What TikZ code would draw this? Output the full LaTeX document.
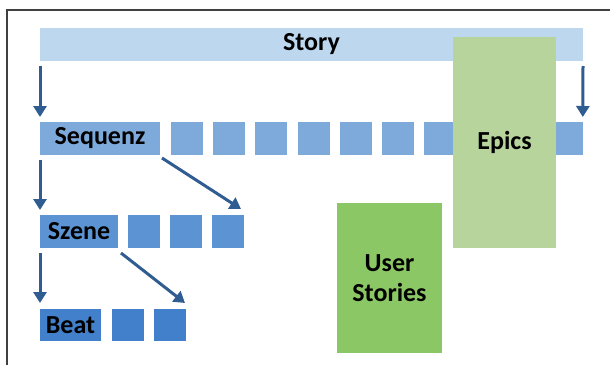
\documentclass[tikz,border=0pt]{standalone}
\usepackage{fontspec}
\setmainfont{Carlito}
\usetikzlibrary{positioning, arrows.meta}
\usepackage{xcolor}
\definecolor{storyblue}{HTML}{BDD7EE}
\definecolor{seqblue}{HTML}{7DA9DB}
\definecolor{szeneblue}{HTML}{5B93D3}
\definecolor{beatblue}{HTML}{4380CB}
\definecolor{arrowblue}{HTML}{2F5C91}
\definecolor{epicgreen}{HTML}{B6D49B}
\definecolor{usergreen}{HTML}{8BC765}
\definecolor{framegray}{HTML}{404040}

\begin{document}
\begin{tikzpicture}[x=1pt, y=-1pt,
	box/.style={inner sep=0pt, outer sep=0pt, anchor=north west,
		font=\bfseries\fontsize{26}{30}\selectfont},
	sq/.style={box, minimum width=32pt, minimum height=33pt},
	arr/.style={draw=arrowblue, line width=3pt, -{Triangle[length=11pt,width=13pt]}}]
	\useasboundingbox (0,0) rectangle (610,365);
	% Frame
	\draw[framegray, line width=2pt] (610,10) -- (7,10) -- (7,365);
	% Story
	\node[box, fill=storyblue, minimum width=543pt, minimum height=33pt] (story) at (40,28) {Story};
	% Sequenz row
	\node[box, fill=seqblue, minimum width=120pt, minimum height=33pt] (seq) at (40,122) {Sequenz};
	\foreach \i in {1,...,10}
		\node[sq, fill=seqblue] (seqsq\i) at ({171+42.2*(\i-1)},122) {};
	% Szene row
	\node[box, fill=szeneblue, minimum width=78pt, minimum height=33pt] (szene) at (40,215) {Szene};
	\foreach \i in {1,...,3}
		\node[sq, fill=szeneblue] (szsq\i) at ({128+42*(\i-1)},215) {};
	% Beat row
	\node[box, fill=beatblue, minimum width=61pt, minimum height=32pt] (beat) at (40,309) {Beat};
	\foreach \i in {1,2}
		\node[sq, fill=beatblue, minimum height=32pt] (btsq\i) at ({112+42*(\i-1)},309) {};
	% Epics and User Stories
	\node[box, fill=epicgreen, minimum width=103pt, minimum height=211pt] (epics) at (453,37) {Epics};
	\node[box, fill=usergreen, minimum width=105pt, minimum height=150pt, align=center] (user) at (337,203) {User\\Stories};
	% Arrows
	\draw[arr] ([yshift=-5pt]story.south west) -- ([yshift=5pt]seq.north west);
	\draw[arr] ([yshift=-5pt]story.south east) -- ([yshift=5pt]seqsq10.north east);
	\draw[arr] ([yshift=-5pt]seq.south west) -- ([yshift=5pt]szene.north west);
	\draw[arr] ([yshift=-5pt]szene.south west) -- ([yshift=6pt]beat.north west);
	\draw[arr] ([shift={(2pt,-3pt)}]seq.south east) -- ([shift={(-3pt,6pt)}]szsq3.north east);
	\draw[arr] ([shift={(3pt,-5pt)}]szene.south east) -- ([shift={(-1pt,6pt)}]btsq2.north east);
\end{tikzpicture}
\end{document}
